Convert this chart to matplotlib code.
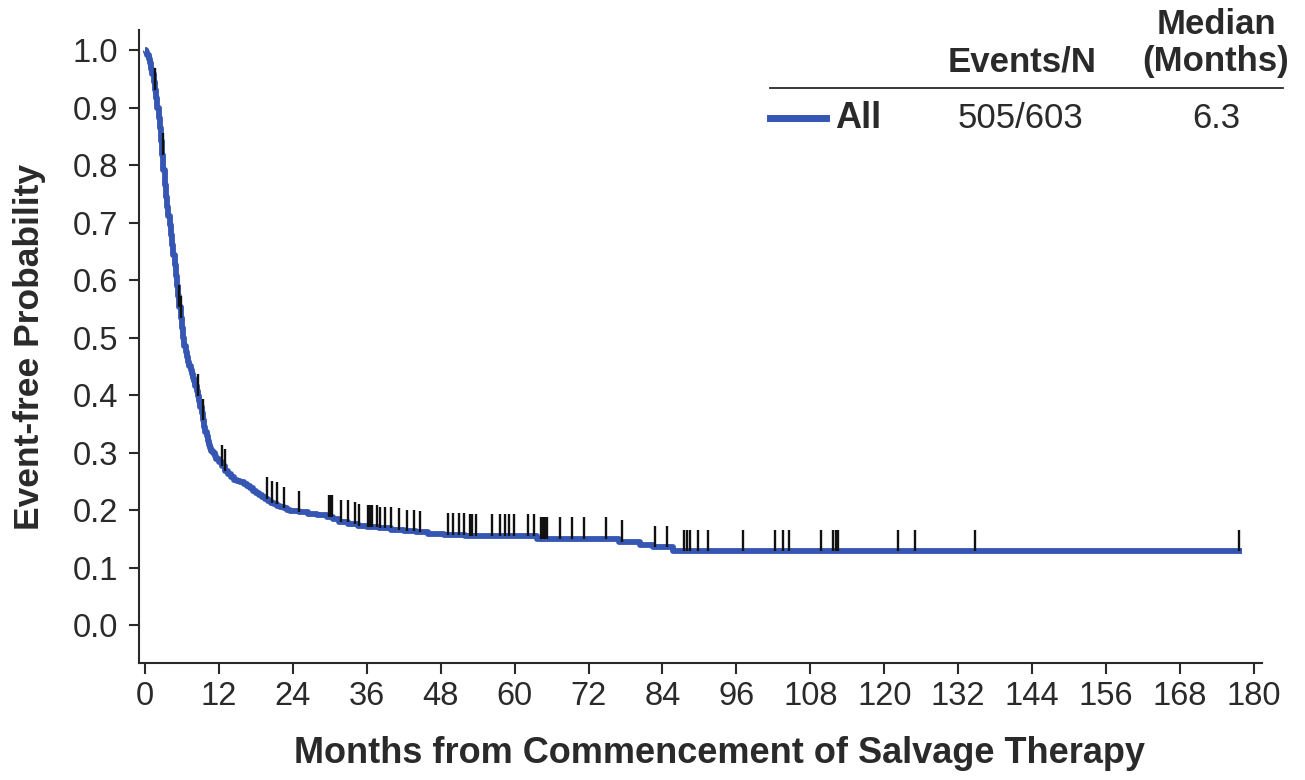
import numpy as np
import matplotlib.pyplot as plt
from matplotlib.lines import Line2D

plt.rcParams['font.family'] = ['Liberation Sans', 'DejaVu Sans']

# Kaplan-Meier estimate (months, event-free probability)
km_time = [0.0, 0.2, 0.4, 0.6, 0.8, 1.0, 1.2, 1.4, 1.6, 1.8, 2.0, 2.2, 2.4,
           2.6, 2.8, 3.0, 3.2, 3.4, 3.6, 3.8, 4.0, 4.2, 4.4, 4.6, 4.8, 5.0,
           5.2, 5.4, 5.6, 5.8, 6.0, 6.2, 6.4, 6.6, 6.8, 7.0, 7.2, 7.4, 7.6,
           7.8, 8.0, 8.2, 8.4, 8.6, 8.8, 9.0, 9.2, 9.4, 9.6, 9.8, 10.0, 10.2,
           10.4, 10.6, 10.8, 11.0, 11.3, 11.6, 12.0, 12.5, 13.0, 13.5, 14.0,
           14.5, 15.0, 15.5, 16.0, 16.5, 17.0, 17.5, 18.0, 18.5, 19.0, 19.5,
           20.0, 20.5, 21.0, 21.5, 22.0, 22.5, 23.0, 23.5, 24.0, 25.0, 26.5,
           28.0, 29.5, 30.5, 31.5, 33.0, 34.5, 36.0, 38.0, 40.0, 42.0, 44.0,
           46.0, 48.5, 52.0, 63.6, 77.0, 80.4, 82.5, 85.7, 178.0]
km_surv = [1.000, 0.997, 0.992, 0.985, 0.977, 0.968, 0.958, 0.945, 0.931,
           0.917, 0.900, 0.882, 0.864, 0.842, 0.818, 0.792, 0.765, 0.745,
           0.728, 0.712, 0.695, 0.678, 0.661, 0.644, 0.626, 0.608, 0.590,
           0.572, 0.553, 0.534, 0.516, 0.500, 0.486, 0.475, 0.466, 0.458,
           0.451, 0.444, 0.437, 0.430, 0.424, 0.416, 0.407, 0.398, 0.389,
           0.379, 0.368, 0.356, 0.345, 0.336, 0.328, 0.321, 0.314, 0.308,
           0.303, 0.299, 0.294, 0.289, 0.283, 0.276, 0.268, 0.262, 0.257,
           0.253, 0.250, 0.248, 0.246, 0.242, 0.238, 0.233, 0.229, 0.226,
           0.222, 0.219, 0.216, 0.213, 0.210, 0.207, 0.205, 0.203, 0.201,
           0.199, 0.198, 0.196, 0.194, 0.191, 0.188, 0.184, 0.180, 0.176,
           0.173, 0.171, 0.168, 0.166, 0.163, 0.161, 0.159, 0.157, 0.155,
           0.150, 0.145, 0.140, 0.135, 0.128, 0.128]

# censored observations (months)
censor_time = [1.6, 2.9, 5.6, 5.8, 8.6, 9.4, 12.5, 13.0, 19.8, 20.6, 21.4, 22.6,
               25.0, 29.8, 30.1, 30.4, 31.9, 32.9, 34.1, 34.8, 36.2, 36.5, 36.8,
               37.6, 38.2, 38.9, 39.9, 41.2, 42.5, 43.7, 44.6, 49.2, 50.0, 50.9,
               51.8, 52.8, 53.1, 53.7, 56.4, 57.7, 58.4, 59.1, 59.9, 62.2, 63.2,
               64.3, 64.6, 64.9, 65.3, 67.4, 69.3, 71.3, 74.8, 77.4, 82.8, 84.8,
               87.5, 87.9, 88.5, 89.8, 91.4, 97.0, 102.3, 103.5, 104.6, 109.8,
               111.7, 112.1, 112.5, 122.3, 125.0, 134.7, 177.6]

x_ticks = list(range(0, 181, 12))
y_ticks = [0.0, 0.1, 0.2, 0.3, 0.4, 0.5, 0.6, 0.7, 0.8, 0.9, 1.0]

group = 'All'
events_n = '505/603'
median = '6.3'

blue = '#3557b3'
dark = '#2a2a2a'

fig = plt.figure(figsize=(13.05, 7.8), dpi=100)
ax = fig.add_axes([0.1065, 0.15, 0.8605, 0.8115])

ax.plot(km_time, km_surv, drawstyle='steps-post', color=blue, lw=4.2,
        solid_capstyle='butt', solid_joinstyle='round', zorder=2)

# censor ticks sit on the step curve
idx = np.searchsorted(km_time, censor_time, side='right') - 1
c_surv = np.array(km_surv)[idx]
ax.vlines(censor_time, c_surv, c_surv + 0.038, color='#111111', lw=1.7, zorder=3)

ax.set_xlim(-0.97, 181.3)
ax.set_ylim(-0.066, 1.035)
ax.set_xticks(x_ticks)
ax.set_yticks(y_ticks)
ax.set_yticklabels(['%.1f' % v for v in y_ticks])
for s in ['top', 'right']:
    ax.spines[s].set_visible(False)
for s in ['left', 'bottom']:
    ax.spines[s].set_linewidth(1.5)
    ax.spines[s].set_color(dark)
ax.tick_params(axis='x', length=8, width=1.5, color=dark, labelsize=23.5,
               labelcolor=dark, pad=5)
ax.tick_params(axis='y', length=7, width=1.5, color=dark, labelsize=23.5,
               labelcolor=dark, pad=8)

ax.set_xlabel('Months from Commencement of Salvage Therapy', fontsize=26,
              fontweight='bold', color=dark)
ax.set_ylabel('Event-free Probability', fontsize=25.5, fontweight='bold',
              color=dark)
ax.xaxis.set_label_coords(0.517, -0.115)
ax.yaxis.set_label_coords(-0.083, 0.5)

# legend table, top right
fig.text(1022 / 1305, 1 - 62 / 780, 'Events/N', ha='center', va='center',
         fontsize=25, fontweight='bold', color=dark)
fig.text(1216 / 1305, 1 - 25 / 780, 'Median', ha='center', va='center',
         fontsize=25, fontweight='bold', color=dark)
fig.text(1216 / 1305, 1 - 61 / 780, '(Months)', ha='center', va='center',
         fontsize=25, fontweight='bold', color=dark)
fig.add_artist(Line2D([770 / 1305, 1283 / 1305], [1 - 88 / 780, 1 - 88 / 780],
                      color=dark, lw=1.3))
fig.add_artist(Line2D([770 / 1305, 826 / 1305], [1 - 118 / 780, 1 - 118 / 780],
                      color=blue, lw=5))
fig.text(835 / 1305, 1 - 118 / 780, group, ha='left', va='center',
         fontsize=26, fontweight='bold', color=dark)
fig.text(1020 / 1305, 1 - 118 / 780, events_n, ha='center', va='center',
         fontsize=25, color=dark)
fig.text(1216 / 1305, 1 - 118 / 780, median, ha='center', va='center',
         fontsize=25, color=dark)

fig.savefig('out.png', dpi=100, facecolor='white')
